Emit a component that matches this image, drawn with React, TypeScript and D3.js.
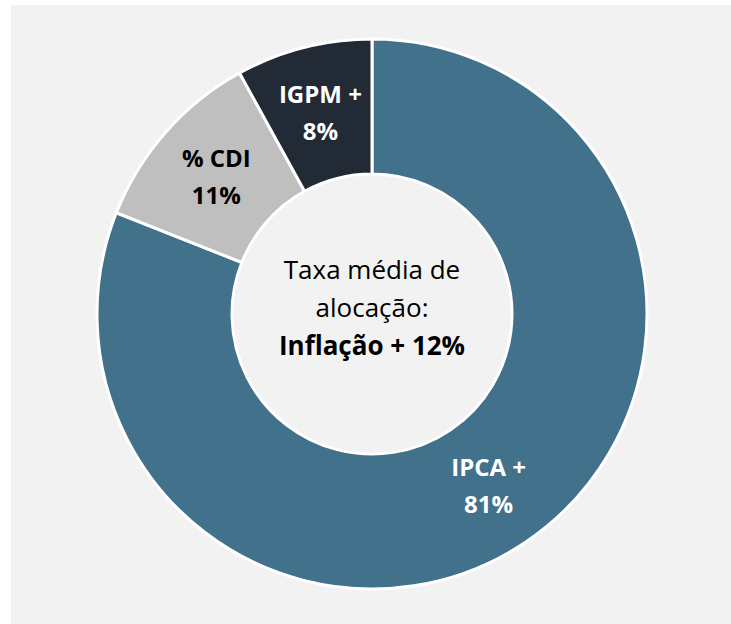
import { useMemo } from "react";
import * as d3 from "d3";

const WIDTH = 731;
const HEIGHT = 624;
const CX = 372;
const CY = 314;
const OUTER = 275;
const INNER = 140;

const categories = ["IPCA +", "% CDI", "IGPM +"];
const values = [81, 11, 8];
const colors = ["#41718b", "#bfbfbf", "#222a35"];
const labelColors = ["#ffffff", "#000000", "#ffffff"];
const centerLines = ["Taxa média de", "alocação:", "Inflação + 12%"];

const FONT = "'Open Sans', Lato, sans-serif";

function App() {
  const arcs = useMemo(() => {
    const pieGen = d3.pie<number>().value((d) => d).sort(null);
    return pieGen(values);
  }, []);

  const arcGen = d3
    .arc<d3.PieArcDatum<number>>()
    .innerRadius(INNER)
    .outerRadius(OUTER);

  return (
    <svg
      width={WIDTH}
      height={HEIGHT}
      style={{ position: "absolute", left: 0, top: 0 }}
    >
      <rect x={0} y={0} width={WIDTH} height={HEIGHT} fill="#ffffff" />
      <rect x={11} y={5} width={WIDTH - 11} height={HEIGHT - 5} fill="#f2f2f2" />
      <g transform={`translate(${CX}, ${CY})`}>
        {arcs.map((a, i) => {
          const [x, y] = arcGen.centroid(a);
          return (
            <g key={i}>
              <path d={arcGen(a) || ""} fill={colors[i]} stroke="#ffffff" strokeWidth={3} />
              <text
                x={x}
                y={y - 10}
                textAnchor="middle"
                fontFamily={FONT}
                fontWeight="bold"
                fontSize={24}
                fill={labelColors[i]}
              >
                <tspan x={x} dy={0}>{categories[i]}</tspan>
                <tspan x={x} dy={37}>{values[i]}%</tspan>
              </text>
            </g>
          );
        })}
        <circle r={INNER - 1.5} fill="#f2f2f2" />
        <text textAnchor="middle" fontFamily={FONT} fontSize={26} fill="#000000">
          <tspan x={0} y={-35}>{centerLines[0]}</tspan>
          <tspan x={0} y={3}>{centerLines[1]}</tspan>
          <tspan x={0} y={41} fontWeight="bold">{centerLines[2]}</tspan>
        </text>
      </g>
    </svg>
  );
}

export default App;
